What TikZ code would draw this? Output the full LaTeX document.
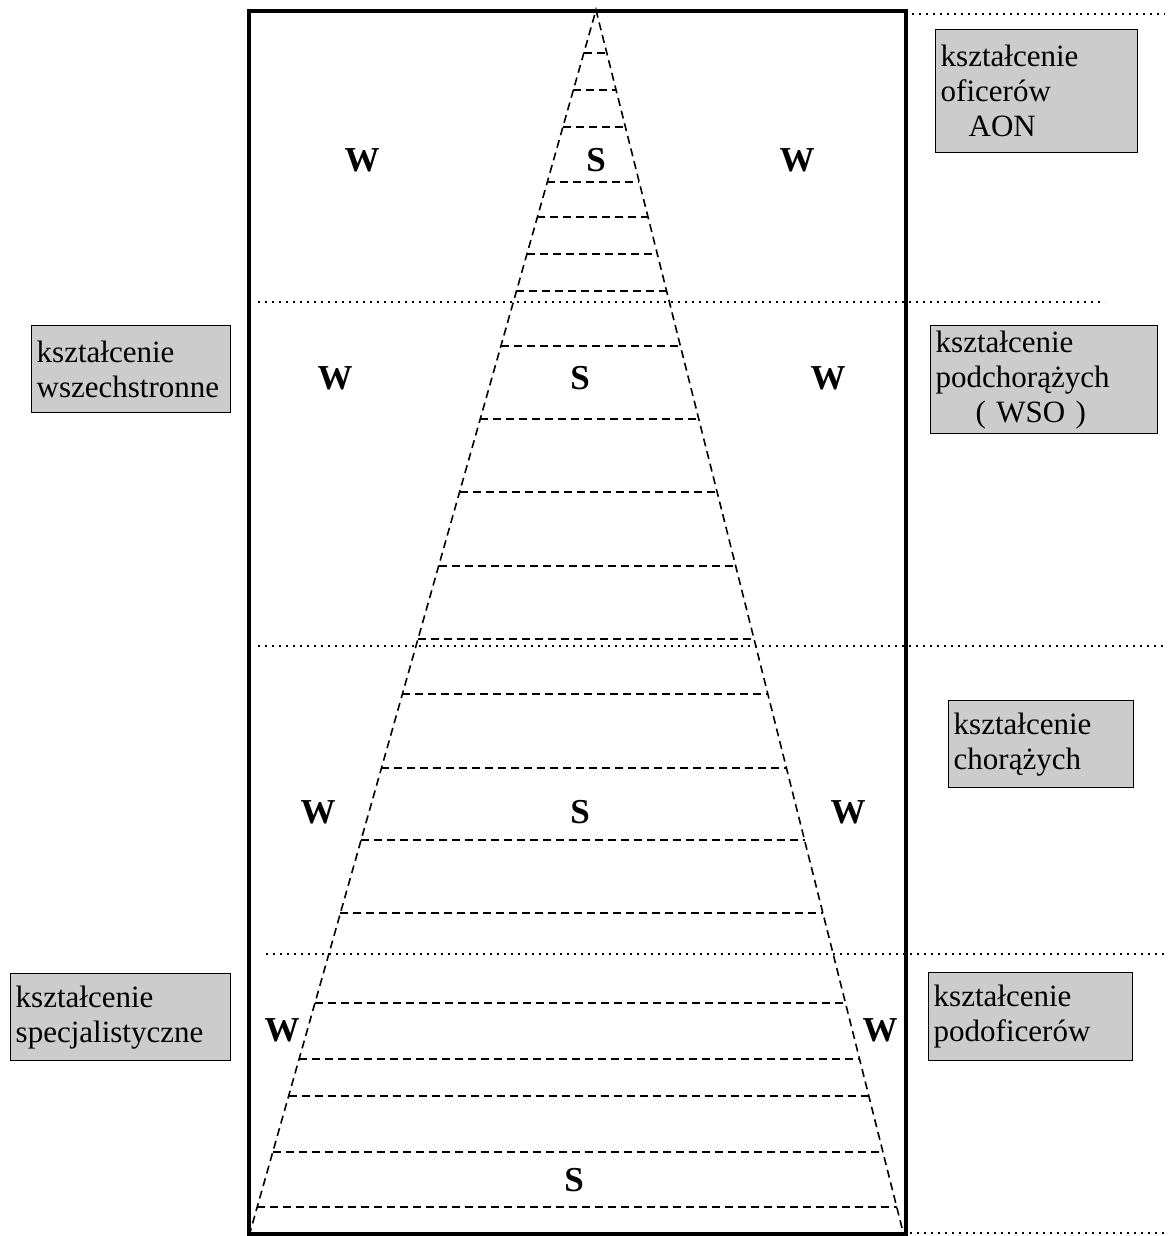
\documentclass[tikz,border=0pt]{standalone}
\usepackage{fontspec}
\setmainfont{Liberation Serif}
\usetikzlibrary{calc}

\tikzset{
  infobox/.style={draw, line width=1.4pt, fill=black!20, anchor=north west, align=left,
    inner xsep=5pt, inner ysep=2pt, font=\fontsize{31}{35}\selectfont},
  letter/.style={font=\fontsize{35}{40}\selectfont\bfseries, inner sep=0pt},
  divider/.style={line width=1.6pt, dash pattern=on 1.8pt off 5.2pt},
  rung/.style={line width=1.6pt, dash pattern=on 8pt off 5pt},
}

\begin{document}
\begin{tikzpicture}[x=1pt,y=-1pt]
  \useasboundingbox (0,0) rectangle (1169,1236);
  % frame and the triangle
  \coordinate (apex) at (596,10);
  \coordinate (bl) at (249,1236);
  \coordinate (br) at (904,1236);
  \draw[line width=3.2pt] (249,11) rectangle (906,1234);
  \draw[rung] (bl) -- (apex) -- (br);
  \foreach \y in {53,90,127,182,217,254,291,346,419,492,566,639,694,768,840,913,1003,1059,1096,1152,1207}
    \draw[rung] ($(apex)!{(\y-10)/1226}!(bl)$) -- ($(apex)!{(\y-10)/1226}!(br)$);
  % level borders
  \draw[divider] (912,14) -- (1165,14);
  \draw[divider] (258,302) -- (1105,302);
  \draw[divider] (258,646) -- (1165,646);
  \draw[divider] (266,954) -- (1165,954);
  \draw[divider] (910,1233) -- (1165,1233);
  % letters
  \node[letter] (w1l) at (362,160) {W};
  \node[letter] (s1)  at (596,160) {S};
  \node[letter] (w1r) at (797,160) {W};
  \node[letter] (w2l) at (335,378) {W};
  \node[letter] (s2)  at (580,378) {S};
  \node[letter] (w2r) at (828,378) {W};
  \node[letter] (w3l) at (318,812) {W};
  \node[letter] (s3)  at (580,812) {S};
  \node[letter] (w3r) at (848,812) {W};
  \node[letter] (w4l) at (282,1030) {W};
  \node[letter] (w4r) at (880,1030) {W};
  \node[letter] (s5)  at (574,1180) {S};
  % boxes
  \node[infobox, text width=192pt, minimum height=123pt] (aon) at (935,29)
    {kształcenie\\oficerów\\\hspace*{28pt}AON};
  \node[infobox, text width=189pt, minimum height=87pt] (wszech) at (31,325)
    {kształcenie\\wszechstronne};
  \node[infobox, text width=217pt, minimum height=108pt] (wso) at (930,325)
    {kształcenie\\podchorążych\\\hspace*{40pt}( WSO )};
  \node[infobox, text width=175pt, minimum height=87pt] (chor) at (948,700)
    {kształcenie\\chorążych};
  \node[infobox, text width=210pt, minimum height=87pt] (spec) at (10,973)
    {kształcenie\\specjalistyczne};
  \node[infobox, text width=194pt, minimum height=88pt] (podof) at (928,972)
    {kształcenie\\podoficerów};
\end{tikzpicture}
\end{document}
